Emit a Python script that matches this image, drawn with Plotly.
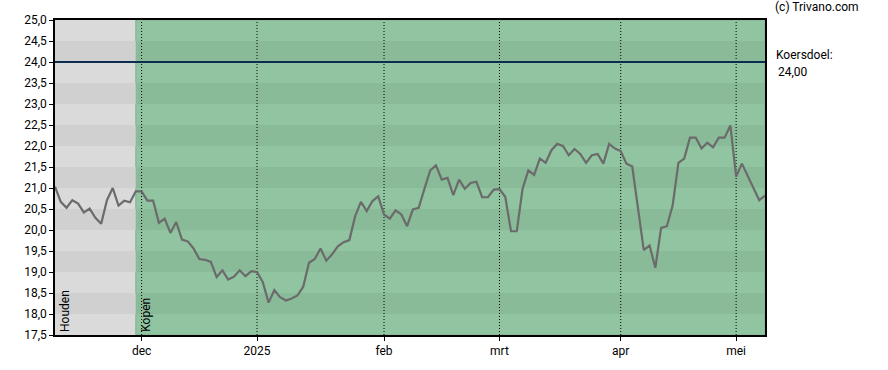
import plotly.graph_objects as go

# Trading-day index values (x axis is trading days)
prices = [
    21.03, 20.67, 20.53, 20.71, 20.63, 20.42, 20.51, 20.29, 20.15, 20.71,
    21.00, 20.58, 20.70, 20.66, 20.92, 20.92, 20.70, 20.70, 20.17, 20.27,
    19.93, 20.19, 19.77, 19.73, 19.56, 19.31, 19.29, 19.24, 18.88, 19.04,
    18.82, 18.89, 19.04, 18.90, 19.02, 19.00, 18.76, 18.27, 18.57, 18.40,
    18.32, 18.37, 18.44, 18.65, 19.22, 19.31, 19.56, 19.27, 19.42, 19.61,
    19.71, 19.76, 20.33, 20.67, 20.45, 20.69, 20.80, 20.37, 20.27, 20.47,
    20.37, 20.09, 20.49, 20.53, 20.98, 21.42, 21.54, 21.20, 21.24, 20.83,
    21.20, 20.98, 21.12, 21.15, 20.78, 20.78, 20.96, 20.97, 20.79, 19.97,
    19.97, 20.98, 21.42, 21.31, 21.70, 21.60, 21.90, 22.05, 22.00, 21.78,
    21.93, 21.81, 21.60, 21.78, 21.81, 21.58, 22.05, 21.94, 21.88, 21.58,
    21.51, 20.55, 19.52, 19.63, 19.10, 20.05, 20.09, 20.58, 21.60, 21.70,
    22.20, 22.20, 21.94, 22.08, 21.97, 22.20, 22.20, 22.49, 21.27, 21.58,
    21.28, 21.00, 20.71, 20.82,
]
day_index = list(range(len(prices)))

month_tick_days = [15, 35, 57, 77, 98, 118]
month_tick_labels = ["dec", "2025", "feb", "mrt", "apr", "mei"]

y_ticks = [17.5 + 0.5 * k for k in range(16)]
y_tick_labels = [f"{v:.1f}".replace(".", ",") for v in y_ticks]

target_price = 24.0
advice_change_day = 14
advice_labels = ["Houden", "Kopen"]

x_min, x_max = 0, len(prices) - 1
y_min, y_max = 17.5, 25.0

GREY_L, GREY_D = "#dadada", "#d0d0d0"
GREEN_L, GREEN_D = "#91c4a1", "#89bb99"

shapes = []
# zone backgrounds
shapes.append(dict(type="rect", xref="x", yref="y", x0=x_min, x1=advice_change_day,
                   y0=y_min, y1=y_max, fillcolor=GREY_L, line_width=0, layer="below"))
shapes.append(dict(type="rect", xref="x", yref="y", x0=advice_change_day, x1=x_max,
                   y0=y_min, y1=y_max, fillcolor=GREEN_L, line=dict(color="#7fb38f", width=1), layer="below"))
# alternating darker bands
n = 18.0
while n < y_max:
    shapes.append(dict(type="rect", xref="x", yref="y", x0=x_min, x1=advice_change_day,
                       y0=n, y1=n + 0.5, fillcolor=GREY_D, line_width=0, layer="below"))
    shapes.append(dict(type="rect", xref="x", yref="y", x0=advice_change_day, x1=x_max,
                       y0=n, y1=n + 0.5, fillcolor=GREEN_D, line_width=0, layer="below"))
    n += 1.0
# month dotted lines
for d in month_tick_days:
    shapes.append(dict(type="line", xref="x", yref="y", x0=d, x1=d, y0=y_min, y1=y_max,
                       line=dict(color="#000000", width=1, dash="1px,2px"), layer="below"))

fig = go.Figure()
fig.add_trace(go.Scatter(x=day_index, y=prices, mode="lines",
                         line=dict(color="#6b6b6b", width=2.2), hoverinfo="skip"))
fig.add_trace(go.Scatter(x=[x_min, x_max], y=[target_price, target_price], mode="lines",
                         line=dict(color="#0b2d4e", width=2), hoverinfo="skip"))

annotations = [
    dict(x=x_min, y=y_min, xref="x", yref="y", text=advice_labels[0], textangle=-90,
         showarrow=False, xanchor="left", yanchor="bottom", xshift=1, yshift=1,
         font=dict(size=12, color="#000000")),
    dict(x=advice_change_day, y=y_min, xref="x", yref="y", text=advice_labels[1], textangle=-90,
         showarrow=False, xanchor="left", yanchor="bottom", xshift=1, yshift=1,
         font=dict(size=12, color="#000000")),
    dict(x=1.011, y=1.04, xref="paper", yref="paper", text="(c) Trivano.com",
         showarrow=False, xanchor="left", yanchor="middle", font=dict(size=12, color="#000000")),
    dict(x=1.012, y=0.889, xref="paper", yref="paper", text="Koersdoel:",
         showarrow=False, xanchor="left", yanchor="middle", font=dict(size=12, color="#000000")),
    dict(x=1.016, y=0.835, xref="paper", yref="paper", text=f"{target_price:.2f}".replace(".", ","),
         showarrow=False, xanchor="left", yanchor="middle", font=dict(size=12, color="#000000")),
]

fig.update_layout(
    width=888, height=370,
    margin=dict(l=55, r=123, t=20, b=35),
    paper_bgcolor="#ffffff", plot_bgcolor="#ffffff",
    showlegend=False,
    font=dict(family="Roboto, Arial, sans-serif", size=12, color="#000000"),
    shapes=shapes, annotations=annotations,
    xaxis=dict(range=[x_min, x_max], tickmode="array", tickvals=month_tick_days,
               ticktext=month_tick_labels, showgrid=False, zeroline=False,
               showline=True, linecolor="#000000", linewidth=1.5, mirror=True,
               ticks="outside", ticklen=4, tickcolor="#000000"),
    yaxis=dict(range=[y_min, y_max], tickmode="array", tickvals=y_ticks,
               ticktext=y_tick_labels, showgrid=False, zeroline=False,
               showline=True, linecolor="#000000", linewidth=1.5, mirror=True,
               ticks="outside", ticklen=4, tickcolor="#000000"),
)

fig.write_html("out.html", config={"displayModeBar": False},
               post_script="document.body.style.margin='0';document.body.style.overflow='hidden';")
